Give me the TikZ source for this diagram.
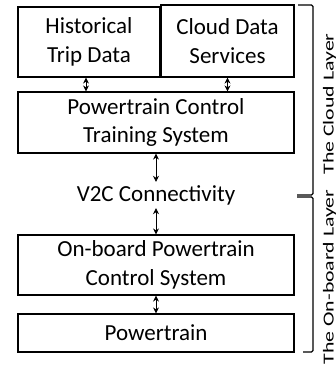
\documentclass[tikz,border=0pt]{standalone}
\usepackage{fontspec}
\setmainfont{Carlito}
\usetikzlibrary{arrows.meta}
\begin{document}
\begin{tikzpicture}[x=1pt,y=-1pt,
 box/.style={draw, line width=1.1pt, inner sep=0pt, align=center, font=\fontsize{23}{28.5}\selectfont},
 lbl/.style={inner sep=0pt, font=\fontsize{23}{28}\selectfont},
 side/.style={inner sep=0pt, rotate=90, anchor=base, font=\fontsize{21.8}{26}\selectfont},
 biarrow/.style={{Stealth[length=6pt,width=6pt]}-{Stealth[length=6pt,width=6pt]}, line width=0.8pt},
 brk/.style={line width=1.2pt, rounded corners=1.5pt}]
\useasboundingbox (0,0) rectangle (336,367);
\node[box, minimum width=142pt, minimum height=70pt] (hist) at (89,42) {Historical\\Trip Data};
\node[box, minimum width=133pt, minimum height=72pt] (cds) at (227.5,41) {Cloud Data\\Services};
\node[box, minimum width=276pt, minimum height=61pt] (pct) at (156,122.5) {Powertrain Control\\Training System};
\node[lbl, minimum height=26pt] (v2c) at (156,195) {V2C Connectivity};
\node[box, minimum width=276pt, minimum height=60pt] (ob) at (156,265) {On-board Powertrain\\Control System};
\node[box, minimum width=276pt, minimum height=38pt] (pt) at (156,333) {Powertrain};
\draw[biarrow] ([xshift=-3pt]hist.south) -- ([xshift=-3pt]hist.south |- pct.north);
\draw[biarrow] (cds.south) -- (cds.south |- pct.north);
\draw[biarrow] (pct.south) -- (v2c.north);
\draw[biarrow] (v2c.south) -- (ob.north);
\draw[biarrow] (ob.south) -- (pt.north);
\coordinate (c1) at (298,5);
\coordinate (c2) at (313,5);
\coordinate (c3) at (313,195);
\coordinate (c4) at (297,195);
\coordinate (o1) at (297,197);
\coordinate (o2) at (313,197);
\coordinate (o3) at (313,352);
\coordinate (o4) at (303,352);
\draw[brk] (c1) -- (c2) -- (c3) -- (c4);
\draw[brk] (o1) -- (o2) -- (o3) -- (o4);
\node[side] (cl) at (333.5,104) {\scalebox{1}[0.7]{The Cloud Layer}};
\node[side] (ol) at (333.5,277) {\scalebox{1}[0.7]{The On-board Layer}};
\end{tikzpicture}
\end{document}
